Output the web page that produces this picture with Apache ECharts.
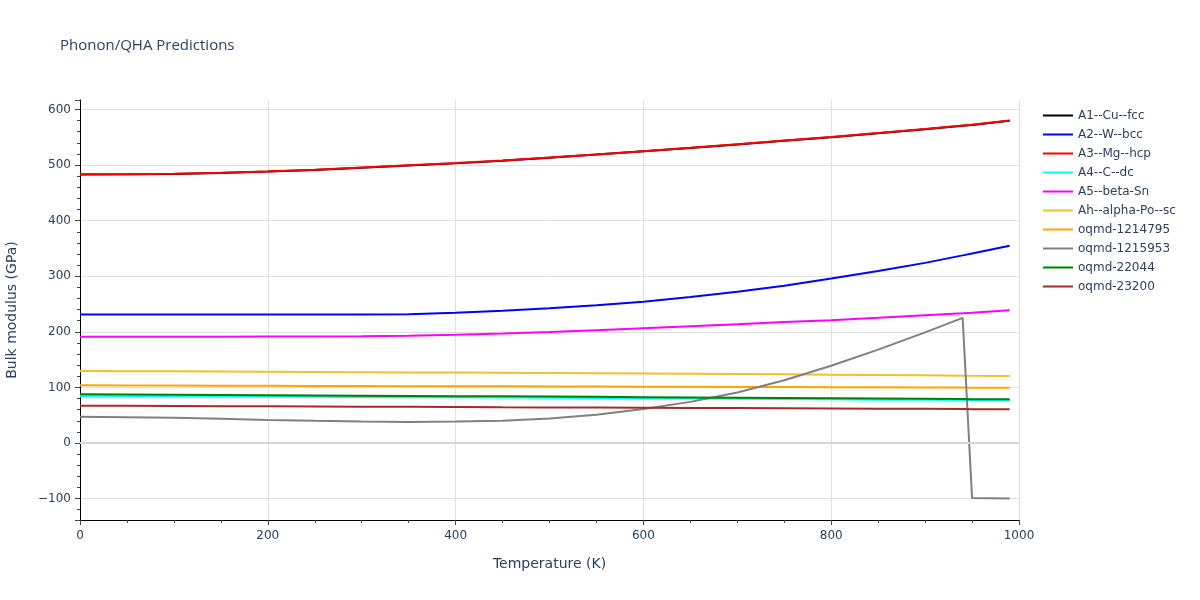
<!DOCTYPE html>
<html>
<head>
<meta charset="utf-8">
<title>Phonon/QHA Predictions</title>
<script src="https://cdn.jsdelivr.net/npm/echarts@6/dist/echarts.min.js"></script>
<style>
  html, body { margin: 0; padding: 0; background: #fff; }
  #chart { width: 1200px; height: 600px; }
</style>
</head>
<body>
<div id="chart"></div>
<script>
// temperatures (K), shared by every series
const temps = [0, 50, 100, 150, 200, 250, 300, 350, 400, 450, 500, 550, 600, 650, 700, 750, 800, 850, 900, 940, 950, 990];

// bulk modulus (GPa)
const cuFcc = [483, 483.3, 483.8, 485.8, 488.2, 491.2, 495, 499, 503, 507.8, 513, 518.8, 524.8, 530.8, 537, 543.5, 550, 557, 564.5, 570.5, 572, 579.5];
const wBcc = [231, 231, 231, 231, 231, 231, 231, 231.5, 234.5, 238, 242.5, 248, 254, 262.5, 272, 283, 296, 309.5, 324, 337.5, 341, 355];
const mgHcp = [483.3, 483.6, 484.2, 486.2, 488.5, 491.5, 495.5, 499.5, 503.5, 508, 513.5, 519, 525, 531, 537.5, 544, 550.5, 557.5, 565, 571, 572.5, 580];
const cDc = [84.5, 84.2, 83.9, 83.6, 83.3, 83, 82.7, 82.4, 82.1, 81.8, 81.5, 81, 80.5, 80, 79.5, 79, 78.5, 78, 77.6, 77.2, 77.1, 76.8];
const betaSn = [191, 191, 191, 191.2, 191.5, 191.8, 192.2, 193, 194.8, 196.8, 199.5, 203, 206.5, 210, 213.5, 217.5, 221, 225.3, 229.8, 233.5, 234.5, 239];
const alphaPo = [129.5, 129.2, 128.9, 128.6, 128.2, 127.8, 127.4, 127, 126.6, 126.2, 125.8, 125.4, 125, 124.5, 124, 123.5, 123, 122.4, 121.8, 121.2, 121, 120.5];
const oqmd1214795 = [103.7, 103.5, 103.3, 103.1, 102.9, 102.7, 102.5, 102.3, 102.1, 101.9, 101.7, 101.5, 101.3, 101.1, 100.9, 100.7, 100.5, 100.2, 99.9, 99.7, 99.6, 99.5];
const oqmd1215953 = [47.3, 46.5, 45.5, 43.5, 41.5, 40, 38.8, 38, 38.5, 40, 44, 51, 61, 74, 91, 113, 139, 168, 199, 225, -99, -100];
const oqmd22044 = [87.5, 87.1, 86.7, 86.3, 85.9, 85.5, 85.1, 84.7, 84.3, 83.9, 83.5, 83, 82.5, 82, 81.5, 81, 80.5, 80, 79.5, 79, 78.8, 78.5];
const oqmd23200 = [67, 66.8, 66.5, 66.2, 65.9, 65.6, 65.3, 65, 64.7, 64.3, 64, 63.7, 63.4, 63.1, 62.8, 62.5, 62.2, 61.8, 61.4, 61, 60.9, 60.6];

const seriesDefs = [
  { name: 'A1--Cu--fcc', color: '#000000', values: cuFcc },
  { name: 'A2--W--bcc', color: '#0000ff', values: wBcc },
  { name: 'A3--Mg--hcp', color: '#ff0000', values: mgHcp },
  { name: 'A4--C--dc', color: '#00ffff', values: cDc },
  { name: 'A5--beta-Sn', color: '#ff00ff', values: betaSn },
  { name: 'Ah--alpha-Po--sc', color: '#f0c12a', values: alphaPo },
  { name: 'oqmd-1214795', color: '#ffa500', values: oqmd1214795 },
  { name: 'oqmd-1215953', color: '#808080', values: oqmd1215953 },
  { name: 'oqmd-22044', color: '#008000', values: oqmd22044 },
  { name: 'oqmd-23200', color: '#a52a2a', values: oqmd23200 },
];

const textColor = '#2a3f5f';
const font = '"DejaVu Sans", Verdana, sans-serif';

const series = seriesDefs.map((s, i) => {
  const item = {
    name: s.name,
    type: 'line',
    showSymbol: false,
    symbol: 'none',
    animation: false,
    color: s.color,
    lineStyle: { color: s.color, width: 2 },
    data: temps.map((t, j) => [t, s.values[j]]),
  };
  if (i === 0) {
    // plotly style zero line
    item.markLine = {
      silent: true,
      symbol: 'none',
      label: { show: false },
      lineStyle: { color: '#d6d6d6', width: 2, type: 'solid' },
      data: [{ yAxis: 0 }],
      animation: false,
    };
  }
  return item;
});

const chart = echarts.init(document.getElementById('chart'));
chart.setOption({
  backgroundColor: '#fff',
  animation: false,
  title: {
    text: 'Phonon/QHA Predictions',
    left: 55,
    top: 33,
    textStyle: { color: textColor, fontFamily: '"Open Sans", sans-serif', fontSize: 15, fontWeight: 'normal' },
  },
  legend: {
    orient: 'vertical',
    left: 1038,
    top: 101,
    itemWidth: 30,
    itemHeight: 2,
    itemGap: 0,
    icon: 'rect',
    textStyle: { color: textColor, fontFamily: font, fontSize: 12, lineHeight: 19 },
    data: seriesDefs.map(s => s.name),
  },
  grid: { left: 80, right: 181, top: 100, bottom: 80, containLabel: false, outerBoundsMode: 'none' },
  xAxis: {
    type: 'value',
    min: 0,
    max: 1000,
    interval: 200,
    name: 'Temperature (K)',
    nameLocation: 'middle',
    nameGap: 37,
    nameTextStyle: { color: textColor, fontFamily: font, fontSize: 14 },
    axisLine: { show: true, onZero: false, lineStyle: { color: '#000', width: 1 } },
    axisTick: { show: true, length: 5, lineStyle: { color: '#444' } },
    minorTick: { show: true, splitNumber: 4, length: 3, lineStyle: { color: '#444' } },
    axisLabel: { color: textColor, fontFamily: font, fontSize: 12, margin: 10, formatter: v => String(v) },
    splitLine: { show: true, lineStyle: { color: '#e1e1e1', width: 1 } },
  },
  yAxis: {
    type: 'value',
    min: -138.5,
    max: 617,
    minInterval: 100,
    maxInterval: 100,
    splitNumber: 8,
    name: 'Bulk modulus (GPa)',
    nameLocation: 'middle',
    nameGap: 61,
    nameTextStyle: { color: textColor, fontFamily: font, fontSize: 14 },
    axisLine: { show: true, onZero: false, lineStyle: { color: '#000', width: 1 } },
    axisTick: { show: true, length: 5, lineStyle: { color: '#444' } },
    minorTick: { show: true, splitNumber: 5, length: 3, lineStyle: { color: '#444' } },
    axisLabel: {
      color: textColor, fontFamily: font, fontSize: 12, margin: 9,
      showMinLabel: false, showMaxLabel: false,
      formatter: v => (v < 0 ? '\u2212' + Math.abs(v) : String(v)),
    },
    splitLine: { show: true, showMinLine: false, showMaxLine: false, lineStyle: { color: '#e1e1e1', width: 1 } },
  },
  series: series,
});
</script>
</body>
</html>
